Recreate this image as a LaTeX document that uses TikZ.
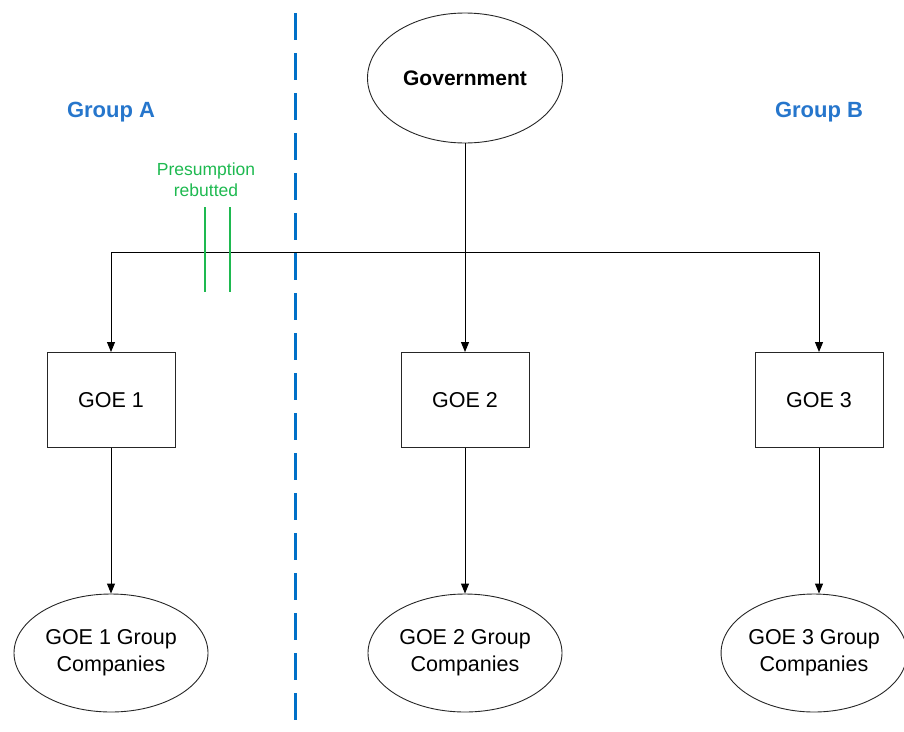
\documentclass[tikz,border=0pt]{standalone}
\usepackage{fontspec}
\setmainfont{Liberation Sans}
\usetikzlibrary{shapes.geometric,arrows.meta}
\definecolor{grpblue}{RGB}{38,118,204}
\definecolor{dashblue}{RGB}{0,112,200}
\definecolor{rebgreen}{RGB}{30,185,80}
\tikzset{
  oval/.style={draw=black!85,ellipse,line width=0.9pt,fill=white,align=center,inner sep=0pt,font=\fontsize{21.5}{27}\selectfont},
  goebox/.style={draw=black!85,rectangle,line width=1pt,fill=white,minimum width=128pt,minimum height=95pt,font=\fontsize{21.5}{26}\selectfont},
  conn/.style={draw=black,line width=1pt,-{Triangle[length=10pt,width=8pt]}},
  plain/.style={draw=black,line width=1pt},
  grouplbl/.style={text=grpblue,font=\bfseries\fontsize{22}{26}\selectfont},
}
\begin{document}
\begin{tikzpicture}[x=1pt,y=-1pt]
\useasboundingbox (0,0) rectangle (904,731);
% dividing line
\coordinate (dtop) at (295,13);
\coordinate (dbot) at (295,731);
\draw[dashblue,line width=3pt,dash pattern=on 27pt off 13pt] (dtop) -- (dbot);
% nodes
\node[oval,minimum width=195pt,minimum height=130pt,font=\bfseries\fontsize{21}{26}\selectfont] (gov) at (465,78) {Government};
\node[grouplbl] (ga) at (111,112) {Group A};
\node[grouplbl] (gb) at (819,112) {Group B};
\node[text=rebgreen,align=center,font=\fontsize{17.5}{21}\selectfont] (reb) at (206,180) {Presumption\\rebutted};
\node[goebox] (g1) at (111,400) {GOE 1};
\node[goebox] (g2) at (465,400) {GOE 2};
\node[goebox] (g3) at (819,400) {GOE 3};
\node[oval,minimum width=194pt,minimum height=118pt] (c1) at (111,653) {GOE 1 Group\\Companies};
\node[oval,minimum width=194pt,minimum height=118pt] (c2) at (465,653) {GOE 2 Group\\Companies};
\node[oval,minimum width=184pt,minimum height=118pt] (c3) at (814,653) {GOE 3 Group\\Companies};
% connectors
\coordinate (jl) at (111,252);
\coordinate (jm) at (465,252);
\coordinate (jr) at (819,252);
\draw[plain] (jl) -- (jr);
\draw[conn] (gov.south) -- (g2.north);
\draw[conn] (jl) -- (g1.north);
\draw[conn] (jr) -- (g3.north);
\draw[conn] (g1.south) -- (c1.north);
\draw[conn] (g2.south) -- (c2.north);
\draw[conn] (g3.south) -- (c3.north -| g3.south);
% rebuttal marks
\coordinate (r1a) at (205,207);
\coordinate (r1b) at (205,292);
\coordinate (r2a) at (230,207);
\coordinate (r2b) at (230,292);
\draw[rebgreen,line width=1.2pt] (r1a) -- (r1b);
\draw[rebgreen,line width=1.2pt] (r2a) -- (r2b);
\end{tikzpicture}
\end{document}
